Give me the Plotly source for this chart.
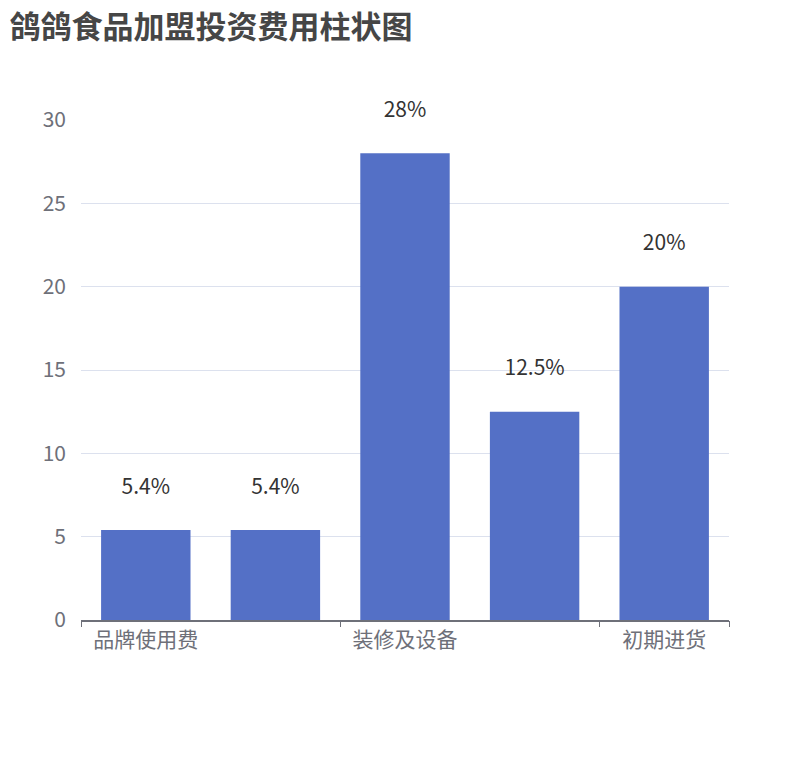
import plotly.graph_objects as go

categories = ["品牌使用费", "", "装修及设备", "", "初期进货"]
values = [5.4, 5.4, 28, 12.5, 20]
labels = ["5.4%", "5.4%", "28%", "12.5%", "20%"]
ytick_vals = [0, 5, 10, 15, 20, 25, 30]

x = list(range(len(values)))
font = "Noto Sans CJK SC"
fig = go.Figure()
fig.add_trace(go.Bar(x=x, y=values, text=["<span>" + l + "</span><br> " for l in labels],
                     textposition="outside",
                     textfont=dict(size=21, color="#333", family=font),
                     marker=dict(color="#5470C6", line=dict(width=0)),
                     cliponaxis=False, width=0.69))
fig.add_trace(go.Scatter(x=[-0.5, 4.5], y=[0, 0], xaxis="x2", mode="lines",
                         line=dict(width=0), hoverinfo="skip", showlegend=False))
fig.update_layout(
    width=810, height=760, plot_bgcolor="white", paper_bgcolor="white",
    margin=dict(l=73, r=89, t=112, b=148), showlegend=False,
    uniformtext=dict(mode=False),
    title=dict(text="<b>鸽鸽食品加盟投资费用柱状图</b>", x=0.002, xanchor="left",
               y=0.975, yanchor="middle", font=dict(size=31, color="#464646", family=font)),
    xaxis=dict(range=[-0.5, 4.5], tickvals=[0, 2, 4],
               ticktext=[categories[0], categories[2], categories[4]],
               ticks="", showgrid=False, showline=True, linecolor="#6E7079", linewidth=1.5,
               tickfont=dict(size=21, color="#6E7079", family=font), zeroline=False),
    xaxis2=dict(range=[-0.5, 4.5], overlaying="x", tickvals=[-0.5, 1.5, 3.5, 4.5],
                showticklabels=False, ticks="outside", ticklen=6, tickcolor="#6E7079",
                showgrid=False, zeroline=False, anchor="y"),
    yaxis=dict(range=[0, 30], tickvals=ytick_vals, gridcolor="#DCE1EE", zeroline=False,
               tickfont=dict(size=21, color="#6E7079", family=font), ticklabelstandoff=14),
)
fig.write_html("out.html")
